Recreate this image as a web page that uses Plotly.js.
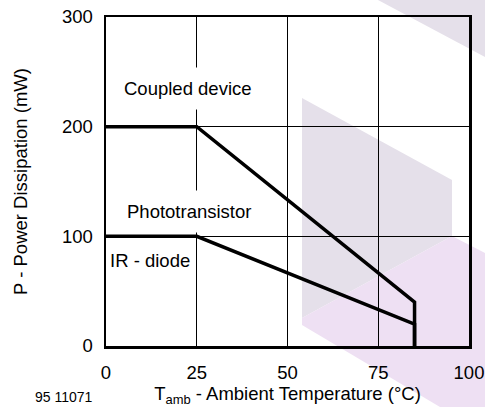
<!DOCTYPE html>
<html>
<head>
<meta charset="utf-8">
<script src="https://cdn.plot.ly/plotly-3.0.1.min.js"></script>
<style>html,body{margin:0;padding:0;background:#fff;}#chart{width:485px;height:407px;}</style>
</head>
<body>
<div id="chart"></div>
<script>
// Data
const tempCoupled = [0, 25, 85, 85];
const powerCoupled = [200, 200, 40, 0];
const tempDiode = [0, 25, 85, 85];
const powerDiode = [100, 100, 20, 0];
const xTicks = [0, 25, 50, 75, 100];
const yTicks = [0, 100, 200, 300];
const curveLabels = ["Coupled device", "Phototransistor", "IR - diode"];
const labelPos = [[22.5, 235], [22.8, 123], [12.2, 78]];

const W = 485, H = 407;
const M = {l: 106, r: 16, t: 17, b: 61};
const pw = W - M.l - M.r, ph = H - M.t - M.b;
function px(x) { return (x - M.l) / pw; }
function py(y) { return (H - M.b - y) / ph; }
function poly(pts) {
  return 'M' + pts.map(p => px(p[0]).toFixed(4) + ',' + py(p[1]).toFixed(4)).join('L') + 'Z';
}

const grey = '#e5e0ea';
const lav = '#eee0f3';
const shapes = [
  {type: 'path', xref: 'paper', yref: 'paper', layer: 'below', line: {width: 0}, fillcolor: grey,
   path: poly([[378, 0], [485, 0], [485, 57]])},
  {type: 'path', xref: 'paper', yref: 'paper', layer: 'below', line: {width: 0}, fillcolor: grey,
   path: poly([[302, 98], [452, 180], [452, 236], [302, 318]])},
  {type: 'path', xref: 'paper', yref: 'paper', layer: 'below', line: {width: 0}, fillcolor: lav,
   path: poly([[302, 318], [452, 236], [485, 253], [485, 407], [440, 407], [302, 325]])}
];

const font = {family: 'Liberation Sans, Arial, Helvetica, sans-serif', size: 18.5, color: '#000'};

const traces = [
  {x: tempCoupled, y: powerCoupled, type: 'scatter', mode: 'lines', name: curveLabels[0],
   line: {color: '#000', width: 3.5}, showlegend: false, hoverinfo: 'skip'},
  {x: tempDiode, y: powerDiode, type: 'scatter', mode: 'lines', name: curveLabels[2],
   line: {color: '#000', width: 3.5}, showlegend: false, hoverinfo: 'skip'}
];

const annotations = [
  {x: labelPos[0][0], y: labelPos[0][1], xref: 'x', yref: 'y', text: curveLabels[0], showarrow: false,
   font: font, bgcolor: '#fff', borderpad: 10},
  {x: labelPos[1][0], y: labelPos[1][1], xref: 'x', yref: 'y', text: curveLabels[1], showarrow: false,
   font: font, bgcolor: '#fff', borderpad: 10},
  {x: labelPos[2][0], y: labelPos[2][1], xref: 'x', yref: 'y', text: curveLabels[2], showarrow: false,
   font: font},
  {x: px(64), y: py(406), xref: 'paper', yref: 'paper', xanchor: 'center', yanchor: 'bottom',
   text: '95 11071', showarrow: false, borderpad: 0,
   font: {family: font.family, size: 14, color: '#000'}}
];

const layout = {
  width: W, height: H,
  margin: M,
  paper_bgcolor: '#fff',
  plot_bgcolor: 'rgba(0,0,0,0)',
  font: font,
  showlegend: false,
  xaxis: {
    range: [0, 100], tickvals: xTicks, ticktext: xTicks.map(String),
    showgrid: true, gridcolor: '#000', gridwidth: 1.2,
    showline: true, linecolor: '#000', linewidth: 2.5, mirror: true,
    zeroline: false, ticks: 'outside', ticklen: 8, tickcolor: 'rgba(0,0,0,0)',
    tickfont: font, fixedrange: true,
    title: {text: 'T<sub>amb</sub> - Ambient Temperature (°C)', font: font, standoff: 5}
  },
  yaxis: {
    range: [0, 300], tickvals: yTicks, ticktext: yTicks.map(String),
    showgrid: true, gridcolor: '#000', gridwidth: 1.2,
    showline: true, linecolor: '#000', linewidth: 2.5, mirror: true,
    zeroline: false, ticks: 'outside', ticklen: 7, tickcolor: 'rgba(0,0,0,0)',
    tickfont: font, fixedrange: true,
    title: {text: 'P - Power Dissipation (mW)', font: font, standoff: 30}
  },
  shapes: shapes,
  annotations: annotations
};

Plotly.newPlot('chart', traces, layout, {displayModeBar: false, staticPlot: true});
</script>
</body>
</html>
